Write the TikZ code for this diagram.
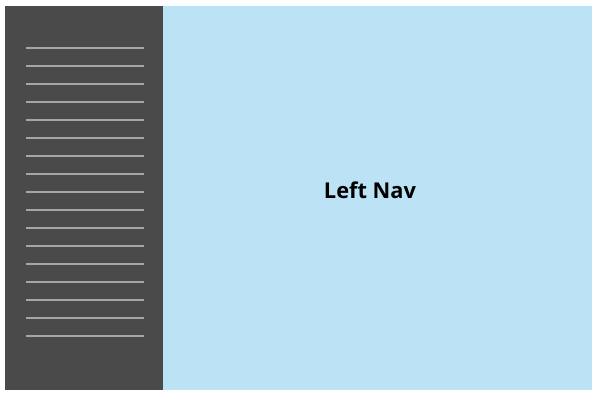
\documentclass[tikz,border=0pt]{standalone}
\usepackage{fontspec}
\setmainfont{Open Sans}
\definecolor{navdark}{HTML}{4A4A4A}
\definecolor{navline}{HTML}{A6A6A6}
\definecolor{mainblue}{HTML}{BBE3F5}
\begin{document}
\begin{tikzpicture}[x=1pt,y=-1pt,
  navitem/.style={draw=navline,line width=2pt},
  title/.style={font=\bfseries\fontsize{21.8}{26}\selectfont,text=black}]
\useasboundingbox (0,0) rectangle (600,400);
\fill[mainblue] (163,6) rectangle (592,389.5);
\fill[navdark] (5,6) rectangle (163,389.5);
\foreach \k in {0,...,16} {
  \coordinate (l\k a) at (26,47.5+18*\k);
  \coordinate (l\k b) at (144,47.5+18*\k);
  \draw[navitem] (l\k a) -- (l\k b);
}
\node[title] (label) at (370,190) {Left Nav};
\end{tikzpicture}
\end{document}
